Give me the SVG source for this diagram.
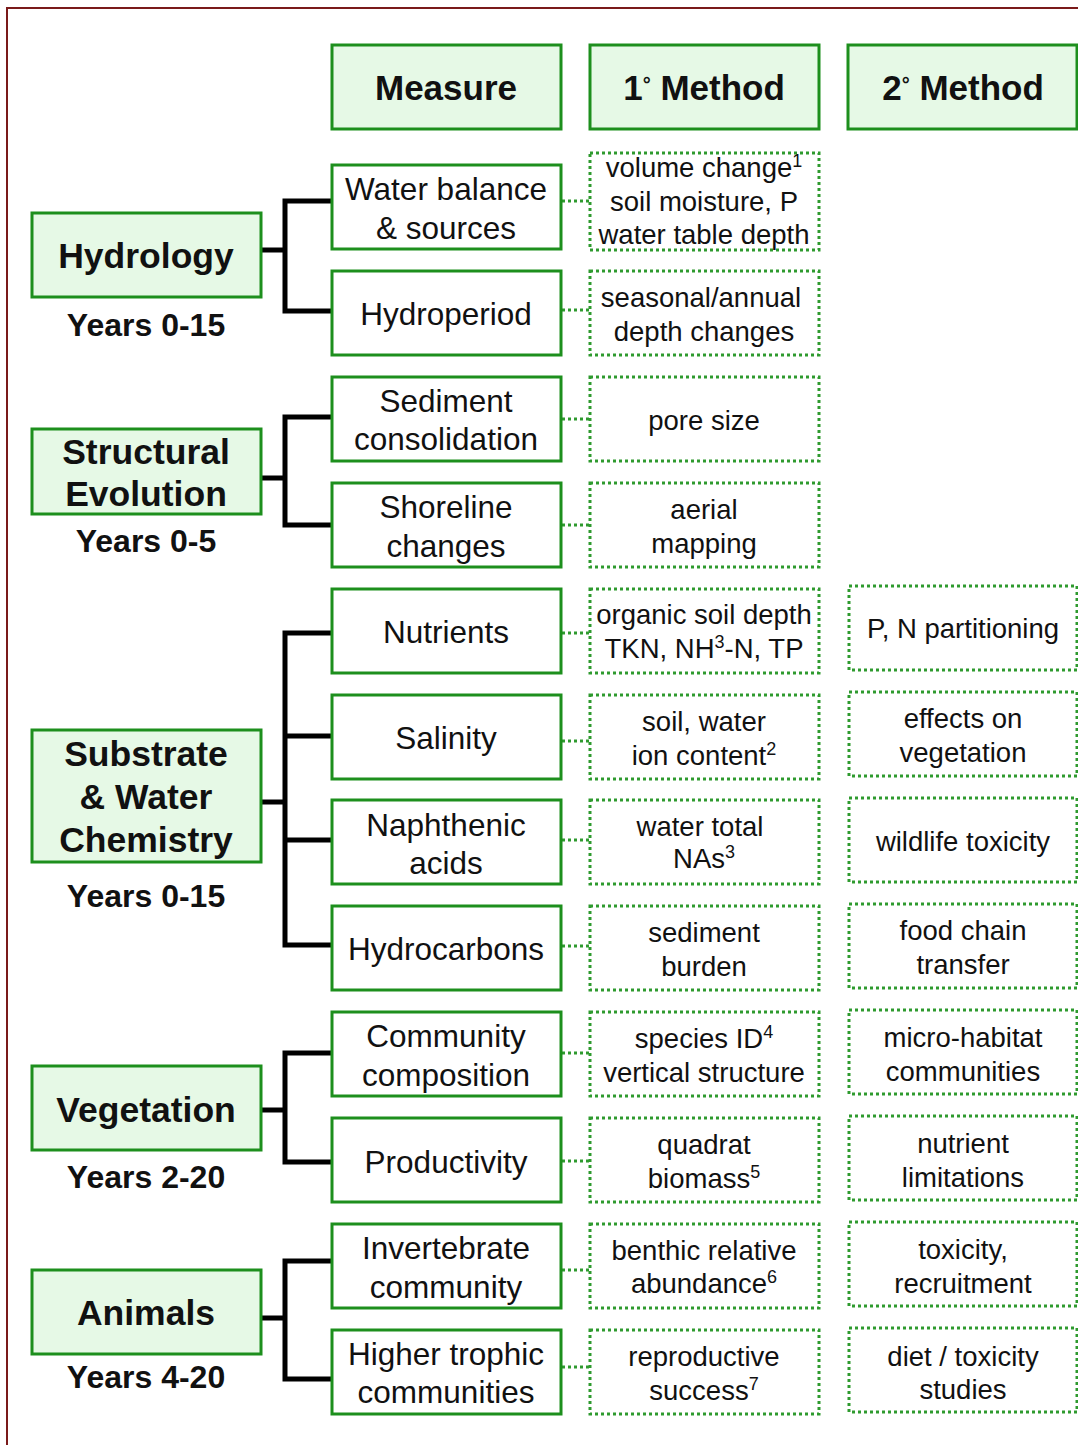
<svg xmlns="http://www.w3.org/2000/svg" width="1078" height="1445" viewBox="0 0 1078 1445">
<style>
.hdr{fill:#e6f9e6;stroke:#1d8f1d;stroke-width:3}
.cat{fill:#e6f9e6;stroke:#1d8f1d;stroke-width:3}
.mea{fill:#ffffff;stroke:#1d8f1d;stroke-width:3}
.met{fill:#ffffff;stroke:#2e9a2e;stroke-width:3;stroke-dasharray:3 3}
.dot{fill:none;stroke:#2e9a2e;stroke-width:3;stroke-dasharray:3 3}
.br{fill:none;stroke:#000;stroke-width:5;stroke-linejoin:miter}
text{font-family:"Liberation Sans",Arial,sans-serif;fill:#111;text-anchor:middle}
.th{font-size:35px;font-weight:bold}
.tc{font-size:35.5px;font-weight:bold}
.ty{font-size:32px;font-weight:bold}
.tm{font-size:31.5px}
.tx{font-size:27.5px}
.sup{font-size:18px}
</style>
<rect x="0" y="0" width="1078" height="1445" fill="#ffffff"/>
<path d="M7,1445 V8 H1078" fill="none" stroke="#7a1a1a" stroke-width="2"/>

<g id="connectors">
<path class="br" d="M261,250 H285 M332,201 H285 V311 H332"/>
<path class="br" d="M261,478 H285 M332,417 H285 V525 H332"/>
<path class="br" d="M261,802 H285 M332,633 H285 V945 H332 M285,736 H332 M285,840 H332"/>
<path class="br" d="M261,1110 H285 M332,1053 H285 V1162 H332"/>
<path class="br" d="M261,1318 H285 M332,1261 H285 V1379 H332"/>
<path class="dot" d="M562,201 H590 M562,310 H590 M562,419 H590 M562,525 H590 M562,633 H590 M562,741 H590 M562,840 H590 M562,946 H590 M562,1053 H590 M562,1161 H590 M562,1270 H590 M562,1367 H590"/>
</g>

<g id="header-measure"><rect class="hdr" x="332" y="45" width="229" height="84"/><text class="th" x="446" y="100">Measure</text></g>
<g id="header-method1"><rect class="hdr" x="590" y="45" width="229" height="84"/><text class="th" x="704" y="100">1<tspan font-size="20" baseline-shift="9">°</tspan> Method</text></g>
<g id="header-method2"><rect class="hdr" x="848" y="45" width="229" height="84"/><text class="th" x="963" y="100">2<tspan font-size="20" baseline-shift="9">°</tspan> Method</text></g>

<g id="cat-hydrology"><rect class="cat" x="32" y="213" width="229" height="84"/><text class="tc" x="146" y="268">Hydrology</text><text class="ty" x="146" y="336">Years 0-15</text></g>
<g id="cat-structural"><rect class="cat" x="32" y="429" width="229" height="85"/><text class="tc" x="146" y="464">Structural</text><text class="tc" x="146" y="506">Evolution</text><text class="ty" x="146" y="552">Years 0-5</text></g>
<g id="cat-substrate"><rect class="cat" x="32" y="730" width="229" height="132"/><text class="tc" x="146" y="766">Substrate</text><text class="tc" x="146" y="809">&amp; Water</text><text class="tc" x="146" y="852">Chemistry</text><text class="ty" x="146" y="907">Years 0-15</text></g>
<g id="cat-vegetation"><rect class="cat" x="32" y="1066" width="229" height="84"/><text class="tc" x="146" y="1122">Vegetation</text><text class="ty" x="146" y="1188">Years 2-20</text></g>
<g id="cat-animals"><rect class="cat" x="32" y="1270" width="229" height="84"/><text class="tc" x="146" y="1325">Animals</text><text class="ty" x="146" y="1388">Years 4-20</text></g>

<g id="m-water"><rect class="mea" x="332" y="165" width="229" height="84"/><text class="tm" x="446" y="200">Water balance</text><text class="tm" x="446" y="239">&amp; sources</text></g>
<g id="m-hydroperiod"><rect class="mea" x="332" y="271" width="229" height="84"/><text class="tm" x="446" y="325">Hydroperiod</text></g>
<g id="m-sediment"><rect class="mea" x="332" y="377" width="229" height="84"/><text class="tm" x="446" y="412">Sediment</text><text class="tm" x="446" y="450">consolidation</text></g>
<g id="m-shoreline"><rect class="mea" x="332" y="483" width="229" height="84"/><text class="tm" x="446" y="518">Shoreline</text><text class="tm" x="446" y="557">changes</text></g>
<g id="m-nutrients"><rect class="mea" x="332" y="589" width="229" height="84"/><text class="tm" x="446" y="643">Nutrients</text></g>
<g id="m-salinity"><rect class="mea" x="332" y="695" width="229" height="84"/><text class="tm" x="446" y="749">Salinity</text></g>
<g id="m-naphthenic"><rect class="mea" x="332" y="800" width="229" height="84"/><text class="tm" x="446" y="836">Naphthenic</text><text class="tm" x="446" y="874">acids</text></g>
<g id="m-hydrocarbons"><rect class="mea" x="332" y="906" width="229" height="84"/><text class="tm" x="446" y="960">Hydrocarbons</text></g>
<g id="m-community"><rect class="mea" x="332" y="1012" width="229" height="84"/><text class="tm" x="446" y="1047">Community</text><text class="tm" x="446" y="1086">composition</text></g>
<g id="m-productivity"><rect class="mea" x="332" y="1118" width="229" height="84"/><text class="tm" x="446" y="1173">Productivity</text></g>
<g id="m-invertebrate"><rect class="mea" x="332" y="1224" width="229" height="84"/><text class="tm" x="446" y="1259">Invertebrate</text><text class="tm" x="446" y="1298">community</text></g>
<g id="m-higher"><rect class="mea" x="332" y="1330" width="229" height="84"/><text class="tm" x="446" y="1365">Higher trophic</text><text class="tm" x="446" y="1403">communities</text></g>

<g id="p-water"><rect class="met" x="590" y="153" width="229" height="97"/><text class="tx" x="704" y="177">volume change<tspan class="sup" baseline-shift="super">1</tspan></text><text class="tx" x="704" y="211">soil moisture, P</text><text class="tx" x="704" y="244">water table depth</text></g>
<g id="p-hydroperiod"><rect class="met" x="590" y="271" width="229" height="84"/><text class="tx" x="701" y="307">seasonal/annual</text><text class="tx" x="704" y="341">depth changes</text></g>
<g id="p-sediment"><rect class="met" x="590" y="377" width="229" height="84"/><text class="tx" x="704" y="430">pore size</text></g>
<g id="p-shoreline"><rect class="met" x="590" y="483" width="229" height="84"/><text class="tx" x="704" y="519">aerial</text><text class="tx" x="704" y="553">mapping</text></g>
<g id="p-nutrients"><rect class="met" x="590" y="589" width="229" height="84"/><text class="tx" x="704" y="624">organic soil depth</text><text class="tx" x="704" y="658">TKN, NH<tspan class="sup" baseline-shift="super">3</tspan>-N, TP</text></g>
<g id="p-salinity"><rect class="met" x="590" y="695" width="229" height="84"/><text class="tx" x="704" y="731">soil, water</text><text class="tx" x="704" y="765">ion content<tspan class="sup" baseline-shift="super">2</tspan></text></g>
<g id="p-naphthenic"><rect class="met" x="590" y="800" width="229" height="84"/><text class="tx" x="700" y="836">water total</text><text class="tx" x="704" y="868">NAs<tspan class="sup" baseline-shift="super">3</tspan></text></g>
<g id="p-hydrocarbons"><rect class="met" x="590" y="906" width="229" height="84"/><text class="tx" x="704" y="942">sediment</text><text class="tx" x="704" y="976">burden</text></g>
<g id="p-community"><rect class="met" x="590" y="1012" width="229" height="84"/><text class="tx" x="704" y="1048">species ID<tspan class="sup" baseline-shift="super">4</tspan></text><text class="tx" x="704" y="1082">vertical structure</text></g>
<g id="p-productivity"><rect class="met" x="590" y="1118" width="229" height="84"/><text class="tx" x="704" y="1154">quadrat</text><text class="tx" x="704" y="1188">biomass<tspan class="sup" baseline-shift="super">5</tspan></text></g>
<g id="p-invertebrate"><rect class="met" x="590" y="1224" width="229" height="84"/><text class="tx" x="704" y="1260">benthic relative</text><text class="tx" x="704" y="1293">abundance<tspan class="sup" baseline-shift="super">6</tspan></text></g>
<g id="p-higher"><rect class="met" x="590" y="1330" width="229" height="84"/><text class="tx" x="704" y="1366">reproductive</text><text class="tx" x="704" y="1400">success<tspan class="sup" baseline-shift="super">7</tspan></text></g>

<g id="s-nutrients"><rect class="met" x="849" y="586" width="228" height="84"/><text class="tx" x="963" y="638">P, N partitioning</text></g>
<g id="s-salinity"><rect class="met" x="849" y="692" width="228" height="84"/><text class="tx" x="963" y="728">effects on</text><text class="tx" x="963" y="762">vegetation</text></g>
<g id="s-naphthenic"><rect class="met" x="849" y="798" width="228" height="84"/><text class="tx" x="963" y="851">wildlife toxicity</text></g>
<g id="s-hydrocarbons"><rect class="met" x="849" y="904" width="228" height="84"/><text class="tx" x="963" y="940">food chain</text><text class="tx" x="963" y="974">transfer</text></g>
<g id="s-community"><rect class="met" x="849" y="1010" width="228" height="84"/><text class="tx" x="963" y="1047">micro-habitat</text><text class="tx" x="963" y="1081">communities</text></g>
<g id="s-productivity"><rect class="met" x="849" y="1116" width="228" height="84"/><text class="tx" x="963" y="1153">nutrient</text><text class="tx" x="963" y="1187">limitations</text></g>
<g id="s-invertebrate"><rect class="met" x="849" y="1222" width="228" height="84"/><text class="tx" x="963" y="1259">toxicity,</text><text class="tx" x="963" y="1293">recruitment</text></g>
<g id="s-higher"><rect class="met" x="849" y="1328" width="228" height="84"/><text class="tx" x="963" y="1366">diet / toxicity</text><text class="tx" x="963" y="1399">studies</text></g>
</svg>
